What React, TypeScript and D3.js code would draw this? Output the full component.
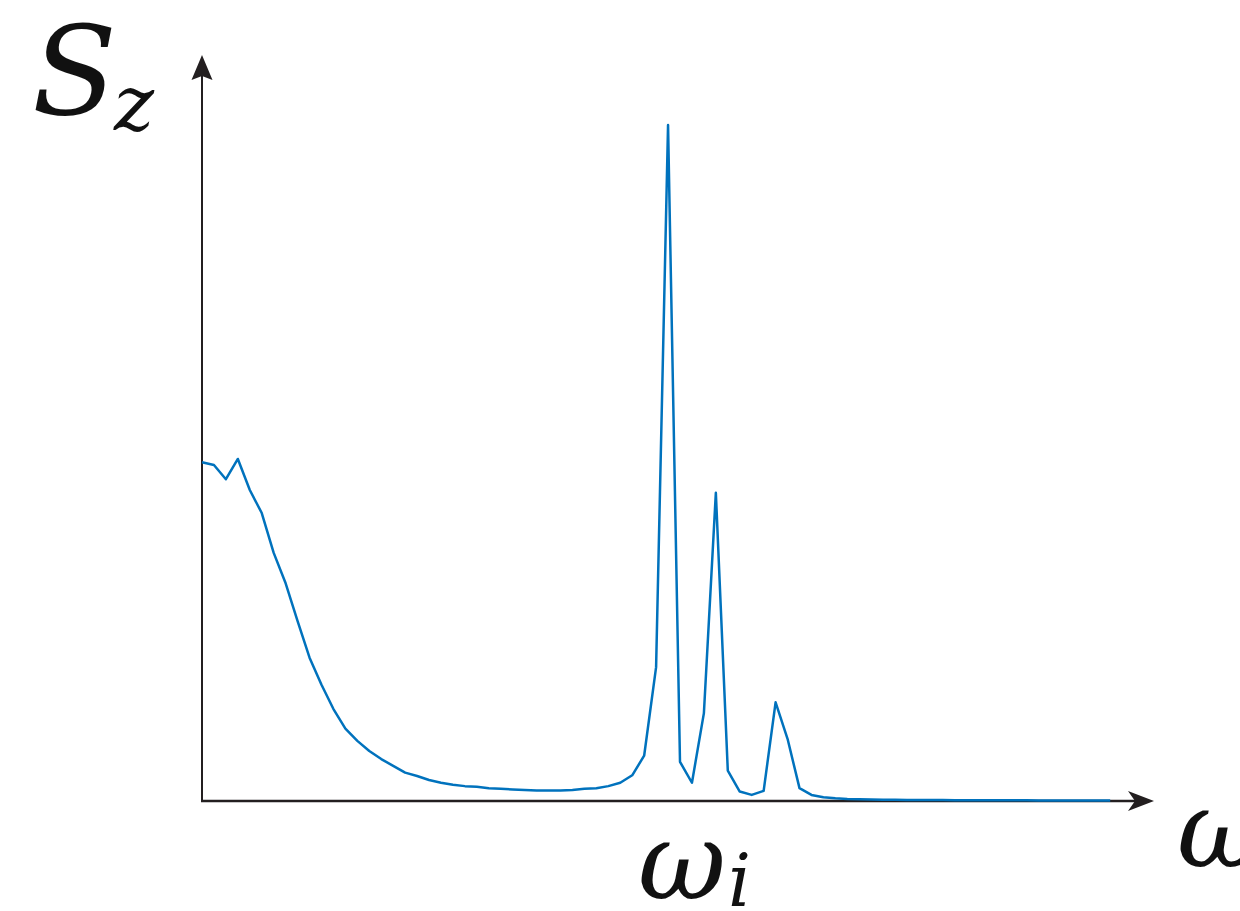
import React from "react";
import * as d3 from "d3";

// Spectral density samples, evenly spaced in frequency (normalised so the main peak is 1)
const spectrum: number[] = [
  0.501, 0.497, 0.476, 0.506, 0.46, 0.426, 0.367, 0.322, 0.266, 0.212,
  0.172, 0.136, 0.107, 0.089, 0.074, 0.062, 0.052, 0.042, 0.037, 0.031,
  0.027, 0.024, 0.022, 0.021, 0.019, 0.018, 0.017, 0.0163, 0.0155, 0.0155,
  0.0155, 0.0163, 0.018, 0.019, 0.022, 0.027, 0.038, 0.067, 0.198, 1.0,
  0.058, 0.027, 0.13, 0.456, 0.045, 0.014, 0.009, 0.015, 0.146, 0.092,
  0.019, 0.009, 0.0055, 0.004, 0.003, 0.0025, 0.0022, 0.002, 0.0018, 0.0016,
  0.0015, 0.0014, 0.0013, 0.0012, 0.0012, 0.0011, 0.0011, 0.001, 0.001, 0.001,
  0.0009, 0.0009, 0.0009, 0.0008, 0.0008, 0.0008, 0.0008,
];

const yLabel = "S";
const ySub = "z";
const xLabel = "ω";
const peakLabel = "ω";
const peakSub = "i";

const W = 1240;
const H = 911;
const originX = 202;
const originY = 801;

export default function App() {
  const x = d3
    .scaleLinear()
    .domain([0, spectrum.length - 1])
    .range([originX, originX + 11.95 * (spectrum.length - 1)]);
  const y = d3.scaleLinear().domain([0, 1]).range([originY, 125]);

  const line = d3
    .line<number>()
    .x((_, i) => x(i))
    .y((d) => y(d));

  const axisColor = "#231f20";
  const font = "'DejaVu Serif', serif";

  return (
    <svg
      width={W}
      height={H}
      viewBox={`0 0 ${W} ${H}`}
      style={{ position: "absolute", left: 0, top: 0, background: "#fff" }}
    >
      {/* vertical axis with arrow */}
      <line x1={originX} y1={originY} x2={originX} y2={72} stroke={axisColor} strokeWidth={2} />
      <path
        d={`M${originX},55 L${originX + 10.5},80 L${originX},76 L${originX - 10.5},80 Z`}
        fill={axisColor}
      />
      {/* horizontal axis with arrow */}
      <line x1={originX - 1} y1={originY} x2={1138} y2={originY} stroke={axisColor} strokeWidth={2.5} />
      <path
        d={`M1154,${originY} L1128,${originY - 10} L1135,${originY} L1128,${originY + 10} Z`}
        fill={axisColor}
      />

      {/* spectrum */}
      <path
        d={line(spectrum) ?? ""}
        fill="none"
        stroke="#0072BD"
        strokeWidth={2.5}
        strokeLinejoin="round"
      />

      {/* labels */}
      <text x={32} y={114} fontFamily={font} fontStyle="italic" fontSize={124} fill="#111">
        {yLabel}
      </text>
      <text x={114} y={130} fontFamily={font} fontStyle="italic" fontSize={76} fill="#111">
        {ySub}
      </text>
      <text x={638} y={899} fontFamily={font} fontStyle="italic" fontSize={108} fill="#111">
        {peakLabel}
      </text>
      <text x={728} y={906} fontFamily={font} fontStyle="italic" fontSize={72} fill="#111">
        {peakSub}
      </text>
      <text x={1177} y={867} fontFamily={font} fontStyle="italic" fontSize={108} fill="#111">
        {xLabel}
      </text>
    </svg>
  );
}
